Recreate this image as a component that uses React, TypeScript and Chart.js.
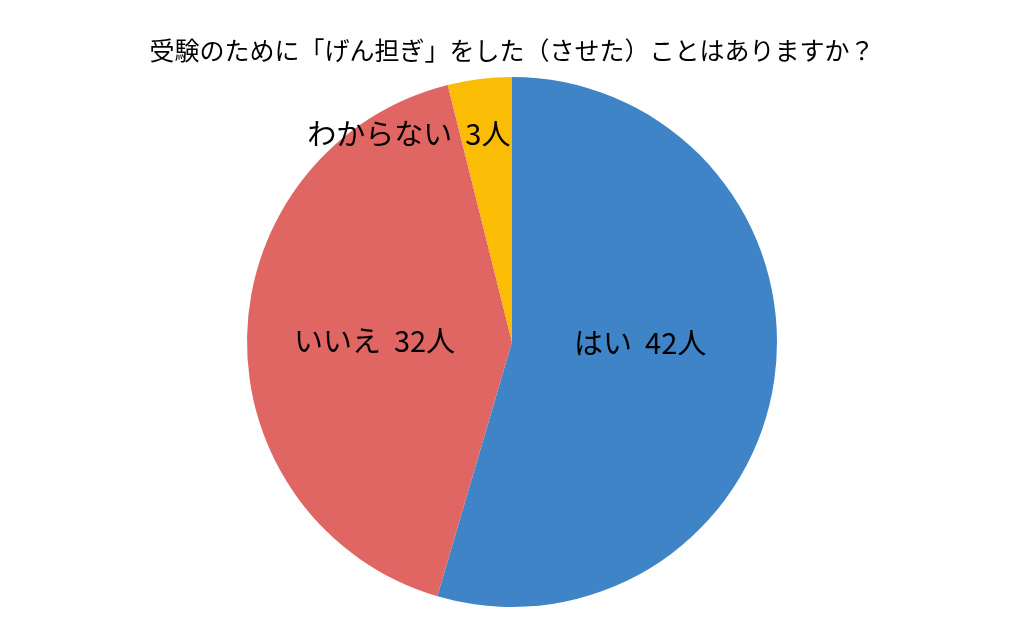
import React, { useEffect, useRef } from "react";
import { Chart, registerables, ArcElement } from "chart.js";

Chart.register(...registerables);

const labels = ["はい", "いいえ", "わからない"];
const counts = [42, 32, 3];
const colors = ["#3F84C7", "#E06664", "#FBBC05"];
const titleText = "受験のために「げん担ぎ」をした（させた）ことはありますか？";

const FONT = "'Noto Sans CJK JP', 'Noto Sans', sans-serif";

// label placement: fraction of radius, alignment and x nudge per slice
const labelPlace = [
  { frac: 0.5, align: "center" as CanvasTextAlign, dx: -3, dy: -18 },
  { frac: 0.5, align: "center" as CanvasTextAlign, dx: -5, dy: 2 },
  { frac: 0.79, align: "right" as CanvasTextAlign, dx: 24, dy: 0 },
];

const sliceLabels = {
  id: "sliceLabels",
  afterDatasetsDraw(chart: Chart) {
    const ctx = chart.ctx;
    const meta = chart.getDatasetMeta(0);
    ctx.save();
    ctx.fillStyle = "#000";
    ctx.font = `29px ${FONT}`;
    ctx.textBaseline = "middle";
    meta.data.forEach((el, i) => {
      const arc = el as ArcElement;
      const { x, y, startAngle, endAngle, outerRadius } = arc.getProps(
        ["x", "y", "startAngle", "endAngle", "outerRadius"],
        true
      ) as any;
      const mid = (startAngle + endAngle) / 2;
      const p = labelPlace[i];
      const r = outerRadius * p.frac;
      const lx = x + Math.cos(mid) * r + p.dx;
      const ly = y + Math.sin(mid) * r + p.dy;
      ctx.textAlign = p.align;
      ctx.fillText(`${labels[i]}  ${counts[i]}人`, lx, ly);
    });
    ctx.restore();
  },
};

const App: React.FC = () => {
  const canvasRef = useRef<HTMLCanvasElement>(null);
  const chartRef = useRef<Chart>();

  useEffect(() => {
    document.body.style.margin = "0";
    const ctx = canvasRef.current?.getContext("2d");
    if (!ctx) return;

    chartRef.current = new Chart(ctx, {
      type: "pie",
      data: {
        labels,
        datasets: [
          {
            data: counts,
            backgroundColor: colors,
            borderWidth: 0,
          },
        ],
      },
      options: {
        animation: false,
        responsive: true,
        maintainAspectRatio: false,
        layout: { padding: { top: 0, bottom: 30 } },
        plugins: {
          legend: { display: false },
          tooltip: { enabled: false },
          title: {
            display: true,
            text: titleText,
            color: "#000",
            font: { family: FONT, size: 25, weight: "normal" },
            padding: { top: 35, bottom: 12 },
          },
        },
      },
      plugins: [sliceLabels],
    });

    return () => {
      chartRef.current?.destroy();
    };
  }, []);

  return (
    <div style={{ position: "relative", width: "1024px", height: "637px", background: "#fff" }}>
      <canvas ref={canvasRef}></canvas>
    </div>
  );
};

export default App;
